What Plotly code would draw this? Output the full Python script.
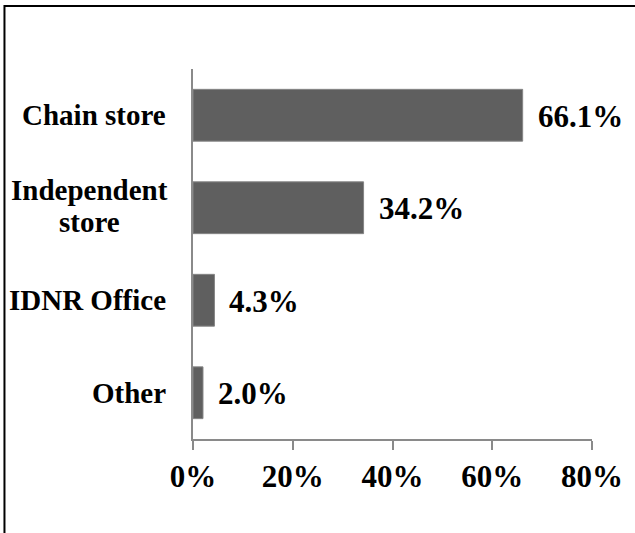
import plotly.graph_objects as go

categories = ["Chain store", "Independent<br>store", "IDNR Office", "Other"]
shares = [66.1, 34.2, 4.3, 2.0]
share_labels = ["66.1%", "34.2%", "4.3%", "2.0%"]
tick_values = [0, 20, 40, 60, 80]
tick_labels = ["0%", "20%", "40%", "60%", "80%"]

font_face = "Liberation Serif, Times New Roman, serif"
axis_grey = "#8a8a8a"

fig = go.Figure()
fig.add_trace(
    go.Bar(
        x=shares,
        y=categories,
        orientation="h",
        marker=dict(color="#5f5f5f", line=dict(color="#858585", width=1)),
        width=0.56,
        hoverinfo="skip",
    )
)

# category names: one-liners right aligned, the two-line one centred per line
# with a tighter line spacing than plotly's default
for cat in categories:
    lines = cat.split("<br>")
    if len(lines) == 1:
        fig.add_annotation(
            x=0, xref="paper", y=cat, yref="y",
            text="<b>%s</b>" % cat,
            showarrow=False, xanchor="right", xshift=-25,
            font=dict(family=font_face, size=29, color="black"),
        )
        continue
    for i, ln in enumerate(lines):
        fig.add_annotation(
            x=0, xref="paper", y=cat, yref="y",
            text="<b>%s</b>" % ln,
            showarrow=False, xanchor="center", xshift=-104,
            yshift=(len(lines) - 1) * 16 - i * 32 + 2,
            font=dict(family=font_face, size=29, color="black"),
        )

# value labels just past the bar ends
for cat, val, lab in zip(categories, shares, share_labels):
    fig.add_annotation(
        x=val, y=cat,
        text="<b>%s</b>" % lab,
        showarrow=False, xanchor="left", xshift=13, yshift=-1,
        font=dict(family=font_face, size=31, color="black"),
    )

# thin frame around the whole figure
fig.add_shape(
    type="rect", xref="paper", yref="paper",
    x0=-0.4725, x1=1.3, y0=-0.5, y1=1.17,
    line=dict(color="black", width=2),
)

fig.update_layout(
    width=635,
    height=533,
    margin=dict(l=193, r=43, t=69, b=94),
    font=dict(family=font_face),
    plot_bgcolor="white",
    paper_bgcolor="white",
    showlegend=False,
    bargap=0.44,
    xaxis=dict(
        range=[0, 80],
        tickvals=tick_values,
        ticktext=["<b>%s</b>" % t for t in tick_labels],
        showgrid=False,
        zeroline=False,
        showline=True,
        linecolor=axis_grey,
        linewidth=2,
        ticks="outside",
        ticklen=9,
        tickwidth=2,
        tickcolor=axis_grey,
        tickfont=dict(family=font_face, size=31, color="black"),
        fixedrange=True,
    ),
    yaxis=dict(
        categoryorder="array",
        categoryarray=categories[::-1],
        showticklabels=False,
        showgrid=False,
        zeroline=False,
        showline=True,
        linecolor=axis_grey,
        linewidth=2,
        ticks="",
        fixedrange=True,
    ),
)

fig.write_html(
    "out.html",
    config={"displayModeBar": False},
    post_script="document.body.style.margin='0';",
)
